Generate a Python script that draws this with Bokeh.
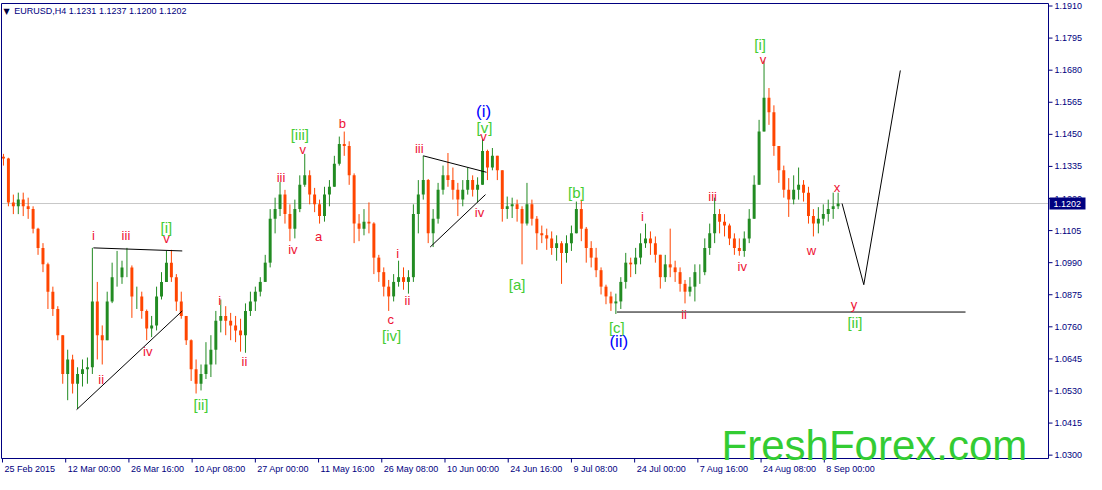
from bokeh.plotting import figure
from bokeh.models import Range1d, Label, ColumnDataSource
from bokeh.core.properties import value
from bokeh.embed import file_html
from bokeh.resources import INLINE

# ---------------- data (EURUSD H4, every candle = 5 H4 bars) ----------------
first_open = 1.1370
closes = [
    1.1363, 1.1206, 1.1192, 1.1216, 1.1192, 1.1182, 1.1112, 1.1043, 1.0984, 1.0886,
    1.0824, 1.0730, 1.0591, 1.0643, 1.0556, 1.0591, 1.0608, 1.0615, 1.0851, 1.0730,
    1.0712, 1.0851, 1.0938, 1.0938, 1.0973, 1.0973, 1.0869, 1.0869, 1.0817, 1.0754,
    1.0765, 1.0869, 1.0921, 1.0990, 1.0938, 1.0851, 1.0799, 1.0712, 1.0608, 1.0556,
    1.0591, 1.0625, 1.0678, 1.0782, 1.0799, 1.0782, 1.0765, 1.0747, 1.0730, 1.0817,
    1.0851, 1.0886, 1.0921, 1.0990, 1.1147, 1.1182, 1.1234, 1.1164, 1.1112, 1.1182,
    1.1269, 1.1303, 1.1234, 1.1199, 1.1157, 1.1234, 1.1262, 1.1345, 1.1415, 1.1408,
    1.1303, 1.1130, 1.1112, 1.1137, 1.1130, 1.1008, 1.0956, 1.0904, 1.0869, 1.0921,
    1.0938, 1.0921, 1.0938, 1.1164, 1.1234, 1.1286, 1.1095, 1.1147, 1.1251, 1.1303,
    1.1286, 1.1251, 1.1216, 1.1251, 1.1286, 1.1251, 1.1269, 1.1390, 1.1331, 1.1373,
    1.1321, 1.1182, 1.1192, 1.1199, 1.1182, 1.1130, 1.1199, 1.1147, 1.1095, 1.1088,
    1.1077, 1.1043, 1.1060, 1.1025, 1.1060, 1.1095, 1.1182, 1.1112, 1.1043, 1.1008,
    1.0963, 1.0904, 1.0869, 1.0844, 1.0851, 1.0921, 1.0990, 1.0984, 1.1008, 1.1060,
    1.1077, 1.1060, 1.1018, 1.0938, 1.0984, 1.0973, 1.0956, 1.0914, 1.0886, 1.0904,
    1.0956, 1.0956, 1.1043, 1.1095, 1.1164, 1.1137, 1.1123, 1.1077, 1.1043, 1.1032,
    1.1077, 1.1147, 1.1269, 1.1460, 1.1581, 1.1529, 1.1408, 1.1321, 1.1251, 1.1216,
    1.1251, 1.1269, 1.1241, 1.1157, 1.1130, 1.1147, 1.1164, 1.1182, 1.1192, 1.1202,
]
highs = [
    1.1380, 1.1366, 1.1234, 1.1241, 1.1241, 1.1223, 1.1192, 1.1115, 1.1060, 1.0990,
    1.0904, 1.0834, 1.0730, 1.0678, 1.0660, 1.0615, 1.0643, 1.0650, 1.1043, 1.0921,
    1.0765, 1.0886, 1.0990, 1.1032, 1.0997, 1.1043, 1.0980, 1.0904, 1.0886, 1.0822,
    1.0799, 1.0904, 1.0956, 1.1032, 1.1036, 1.0949, 1.0886, 1.0799, 1.0715, 1.0643,
    1.0625, 1.0705, 1.0730, 1.0817, 1.0858, 1.0834, 1.0810, 1.0799, 1.0789, 1.0844,
    1.0886, 1.0904, 1.0938, 1.1018, 1.1182, 1.1223, 1.1279, 1.1251, 1.1199, 1.1216,
    1.1303, 1.1380, 1.1321, 1.1258, 1.1216, 1.1262, 1.1286, 1.1373, 1.1442, 1.1460,
    1.1425, 1.1310, 1.1164, 1.1182, 1.1206, 1.1135, 1.1018, 1.0973, 1.0928, 1.0949,
    1.0997, 1.0973, 1.0963, 1.1199, 1.1286, 1.1373, 1.1290, 1.1182, 1.1276, 1.1338,
    1.1383, 1.1331, 1.1276, 1.1286, 1.1331, 1.1303, 1.1296, 1.1432, 1.1395, 1.1401,
    1.1373, 1.1321, 1.1227, 1.1223, 1.1216, 1.1192, 1.1276, 1.1216, 1.1157, 1.1123,
    1.1112, 1.1102, 1.1088, 1.1067, 1.1088, 1.1123, 1.1209, 1.1216, 1.1118, 1.1067,
    1.1043, 1.0973, 1.0911, 1.0886, 1.0879, 1.0938, 1.1025, 1.1008, 1.1043, 1.1095,
    1.1130, 1.1102, 1.1084, 1.1018, 1.1018, 1.1112, 1.0997, 1.0973, 1.0928, 1.0938,
    1.0984, 1.0984, 1.1077, 1.1130, 1.1223, 1.1182, 1.1164, 1.1130, 1.1095, 1.1077,
    1.1102, 1.1182, 1.1303, 1.1502, 1.1714, 1.1616, 1.1554, 1.1408, 1.1338, 1.1293,
    1.1303, 1.1331, 1.1286, 1.1262, 1.1182, 1.1189, 1.1199, 1.1216, 1.1241, 1.1241,
]
lows = [
    1.1338, 1.1192, 1.1164, 1.1164, 1.1157, 1.1147, 1.1095, 1.1018, 1.0956, 1.0824,
    1.0799, 1.0712, 1.0556, 1.0497, 1.0521, 1.0466, 1.0546, 1.0556, 1.0591, 1.0643,
    1.0625, 1.0712, 1.0845, 1.0904, 1.0914, 1.0938, 1.0792, 1.0824, 1.0789, 1.0712,
    1.0723, 1.0747, 1.0858, 1.0921, 1.0921, 1.0817, 1.0789, 1.0695, 1.0566, 1.0521,
    1.0532, 1.0573, 1.0580, 1.0625, 1.0740, 1.0730, 1.0712, 1.0705, 1.0671, 1.0667,
    1.0799, 1.0817, 1.0869, 1.0921, 1.0973, 1.1095, 1.1157, 1.1130, 1.1067, 1.1077,
    1.1171, 1.1262, 1.1199, 1.1171, 1.1130, 1.1137, 1.1192, 1.1262, 1.1338, 1.1373,
    1.1269, 1.1060, 1.1067, 1.1088, 1.1095, 1.0949, 1.0921, 1.0869, 1.0817, 1.0851,
    1.0904, 1.0893, 1.0879, 1.0921, 1.1095, 1.1216, 1.1060, 1.1046, 1.1130, 1.1234,
    1.1262, 1.1216, 1.1157, 1.1192, 1.1234, 1.1227, 1.1206, 1.1269, 1.1286, 1.1321,
    1.1286, 1.1137, 1.1147, 1.1150, 1.1137, 1.0984, 1.1123, 1.1123, 1.1036, 1.1060,
    1.1036, 1.1018, 1.0997, 1.0914, 1.0990, 1.1032, 1.1095, 1.1067, 1.0990, 1.0973,
    1.0938, 1.0876, 1.0841, 1.0817, 1.0806, 1.0824, 1.0897, 1.0938, 1.0949, 1.0984,
    1.1043, 1.1018, 1.0990, 1.0897, 1.0921, 1.0938, 1.0921, 1.0886, 1.0844, 1.0869,
    1.0851, 1.0914, 1.0945, 1.1018, 1.1060, 1.1095, 1.1084, 1.1053, 1.1018, 1.1015,
    1.1011, 1.1060, 1.1147, 1.1269, 1.1460, 1.1484, 1.1373, 1.1276, 1.1223, 1.1154,
    1.1199, 1.1216, 1.1209, 1.1130, 1.1084, 1.1095, 1.1123, 1.1137, 1.1147, 1.1182,
]
H4_BARS_PER_CANDLE = 5

date_tick_bars = [1, 65, 129, 193, 257, 321, 385, 449, 513, 577, 641, 705, 769, 833]
date_tick_labels = ["25 Feb 2015", "12 Mar 00:00", "26 Mar 16:00", "10 Apr 08:00",
                    "27 Apr 00:00", "11 May 16:00", "26 May 08:00", "10 Jun 00:00",
                    "24 Jun 16:00", "9 Jul 08:00", "24 Jul 00:00", "7 Aug 16:00",
                    "24 Aug 08:00", "8 Sep 00:00"]
price_ticks = [1.0300, 1.0415, 1.0530, 1.0645, 1.0760, 1.0875, 1.0990, 1.1105,
               1.1220, 1.1335, 1.1450, 1.1565, 1.1680, 1.1795, 1.1910]
last_price = 1.1202
support_level = 1.0813

# wave-count annotations (bar index, price)
red_text = ["i", "iii", "v", "ii", "iv", "i", "ii", "iii", "v", "iv", "a", "b", "c",
            "i", "ii", "iii", "v", "iv", "i", "ii", "iii", "iv", "v", "w", "x", "y"]
red_x = [93, 126, 167, 101, 148, 221, 246, 283, 305, 295, 321, 345, 394,
         401, 411, 423, 488, 484, 649, 691, 720, 750, 771, 820, 846, 863]
red_y = [1.1088, 1.1088, 1.1077, 1.0570, 1.0671, 1.0855, 1.0636, 1.1296, 1.1397,
         1.1036, 1.1085, 1.1488, 1.0785, 1.1022, 1.0855, 1.1401, 1.1442, 1.1171,
         1.1154, 1.0803, 1.1227, 1.0977, 1.1717, 1.1032, 1.1258, 1.0841]
green_text = ["[i]", "[ii]", "[iii]", "[iv]", "[v]", "[a]", "[b]", "[c]", "[i]", "[ii]"]
green_x = [167, 202, 302, 395, 489, 522, 582, 623, 768, 864]
green_y = [1.1116, 1.0483, 1.1449, 1.0730, 1.1474, 1.0911, 1.1241, 1.0758, 1.1773, 1.0775]
blue_text = ["(i)", "(ii)"]
blue_x = [488, 625]
blue_y = [1.1533, 1.0706]

# trend lines: (x0, y0, x1, y1)
line_x0 = [93, 76, 427, 434, 623]
line_y0 = [1.1043, 1.0463, 1.1373, 1.1046, support_level]
line_x1 = [183, 183, 491, 490, 976]
line_y1 = [1.1032, 1.0817, 1.1314, 1.1234, support_level]
proj_x = [851, 873, 910]
proj_y = [1.1202, 1.0911, 1.1679]

# ---------------- layout geometry (canvas pixels) ----------------
NAVY = "#000080"
UP = "#228b22"
DOWN = "#ff4500"
FONT = "Liberation Sans"
W, H = 1086, 474
BOX_L, BOX_R, BOX_T, BOX_B = 1, 1048, 3, 458     # chart window inside the canvas
X0, X1 = 0, 1060                                  # bar-index span of the chart window
Y0, Y1 = 1.0288, 1.1919                           # price span of the chart window
xs = (X1 - X0) / (BOX_R - BOX_L)                  # data units per pixel
ys = (Y1 - Y0) / (BOX_B - BOX_T)

p = figure(width=W, height=H, output_backend="svg", toolbar_location=None,
           x_range=Range1d(X0 - BOX_L * xs, X1 + (W - BOX_R) * xs),
           y_range=Range1d(Y0 - (H - BOX_B) * ys, Y1 + BOX_T * ys),
           x_axis_location=None, y_axis_location=None, min_border=0,
           background_fill_color="white", border_fill_color="white")
p.grid.visible = False
p.outline_line_color = None

# current price line
p.segment(x0=[X0], x1=[X1], y0=[last_price], y1=[last_price], line_color="#c8c8c8", line_width=1)

# candles
opens = [first_open] + closes[:-1]
bar_x = [H4_BARS_PER_CANDLE * k + 2 for k in range(len(closes))]
colors = [UP if c >= o else DOWN for o, c in zip(opens, closes)]
src = ColumnDataSource(dict(x=bar_x, o=opens, c=closes, h=highs, l=lows, color=colors))
p.segment(x0="x", x1="x", y0="l", y1="h", line_color="color", line_width=1, source=src)
p.vbar(x="x", width=3, top="o", bottom="c", fill_color="color", line_color=None, source=src)

# trend lines and projection
p.segment(x0=line_x0, y0=line_y0, x1=line_x1, y1=line_y1, line_color="black", line_width=1)
p.line(proj_x, proj_y, line_color="black", line_width=1)

# wave labels
p.text(red_x, red_y, text=red_text, text_color="#ee1133", text_font=value(FONT),
       text_font_size="13px", text_align="center", text_baseline="middle")
p.text(green_x, green_y, text=green_text, text_color="#44cc33", text_font=value(FONT),
       text_font_size="15px", text_align="center", text_baseline="middle")
p.text(blue_x, blue_y, text=blue_text, text_color="#0000ff", text_font=value(FONT),
       text_font_size="17px", text_align="center", text_baseline="middle")

# chart window frame
p.quad(left=[X0], right=[X1], bottom=[Y0], top=[Y1], fill_color=None,
       line_color=NAVY, line_width=1)

# price scale (right)
n = len(price_ticks)
p.segment(x0=[X1] * n, x1=[X1 + 4 * xs] * n, y0=price_ticks, y1=price_ticks,
          line_color=NAVY, line_width=1)
p.text(x=[X1 + 6 * xs] * n, y=price_ticks, text=[f"{v:.4f}" for v in price_ticks],
       text_color=NAVY, text_font=value(FONT), text_font_size="9px",
       text_align="left", text_baseline="middle")

# time scale (bottom)
m = len(date_tick_bars)
p.segment(x0=date_tick_bars, x1=date_tick_bars, y0=[Y0] * m, y1=[Y0 - 4 * ys] * m,
          line_color=NAVY, line_width=1)
p.text(x=[t + 2 * xs for t in date_tick_bars], y=[Y0 - 5 * ys] * m, text=date_tick_labels,
       text_color=NAVY, text_font=value(FONT), text_font_size="9px",
       text_align="left", text_baseline="top")

# current price box on the price scale
p.quad(left=[X1 + 1 * xs], right=[X1 + 37 * xs], bottom=[last_price - 6 * ys],
       top=[last_price + 6 * ys], fill_color=NAVY, line_color=None)
p.text(x=[X1 + 5 * xs], y=[last_price], text=[f"{last_price:.4f}"], text_color="white",
       text_font=value(FONT), text_font_size="9px", text_align="left", text_baseline="middle")

# header and watermark
p.add_layout(Label(x=2, y=1.1891, text="\u25bc", text_font="DejaVu Sans",
                   text_font_size="8px", text_color="#000040", text_baseline="middle"))
p.add_layout(Label(x=13, y=1.1891, text="EURUSD,H4  1.1231 1.1237 1.1200 1.1202",
                   text_font=FONT, text_font_size="9px", text_color=NAVY,
                   text_baseline="middle"))
p.add_layout(Label(x=729, y=1.0334, text="FreshForex.com", text_font=FONT,
                   text_font_size="42px", text_color="#33cc33", text_baseline="alphabetic"))

open("out.html", "w").write(file_html(p, INLINE))
